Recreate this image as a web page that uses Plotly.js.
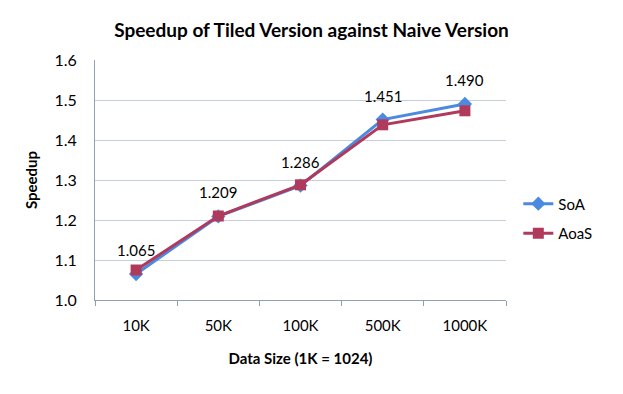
<!DOCTYPE html>
<html>
<head>
<meta charset="utf-8">
<script src="https://cdn.plot.ly/plotly-3.0.1.min.js"></script>
<style>
  body { margin: 0; background: #ffffff; }
  #chart { width: 623px; height: 394px; }
</style>
</head>
<body>
<div id="chart"></div>
<script>
var sizes = ['10K', '50K', '100K', '500K', '1000K'];
var soa = [1.065, 1.209, 1.286, 1.451, 1.490];
var aoas = [1.075, 1.210, 1.288, 1.438, 1.473];
var soaLabels = ['1.065', '1.209', '1.286', '1.451', '1.490'];

var soaTrace = {
    x: sizes,
    y: soa,
    name: 'SoA',
    legendgroup: 'soa',
    type: 'scatter',
    mode: 'lines+markers',
    line: { color: '#4A8AE0', width: 3 },
    marker: { symbol: 'diamond', size: 11, color: '#4A8AE0' }
};

var aoasTrace = {
    x: sizes,
    y: aoas,
    name: 'AoaS',
    legendgroup: 'aoas',
    type: 'scatter',
    mode: 'lines+markers',
    line: { color: '#B03A5C', width: 3 },
    marker: { symbol: 'square', size: 11, color: '#B03A5C' }
};

// data labels above the SoA points
var labels = sizes.map(function (s, i) {
    return {
        x: s, y: soa[i], text: soaLabels[i],
        showarrow: false, yshift: 24,
        font: { size: 15, color: '#000000' }
    };
});

var layout = {
    width: 623,
    height: 394,
    paper_bgcolor: '#ffffff',
    plot_bgcolor: '#ffffff',
    font: { family: 'Lato, "Open Sans", sans-serif', color: '#000000', size: 14 },
    margin: { l: 95, r: 117, t: 60, b: 94 },
    title: {
        text: '<b>Speedup of Tiled Version against Naive Version</b>',
        font: { size: 19 },
        xref: 'container', x: 0.5, xanchor: 'center',
        yref: 'container', y: 0.924, yanchor: 'middle'
    },
    xaxis: {
        title: { text: '<b>Data Size (1K = 1024)</b>', font: { size: 15 }, standoff: 20 },
        type: 'category',
        range: [-0.5, 4.5],
        showline: true,
        linecolor: '#8EA0B4',
        linewidth: 1,
        showgrid: false,
        ticks: 'outside',
        ticklen: 5,
        tickcolor: '#8EA0B4',
        tickson: 'boundaries',
        ticklabelstandoff: 12,
        tickfont: { size: 15 },
        fixedrange: true
    },
    yaxis: {
        title: { text: '<b>Speedup</b>', font: { size: 15 }, standoff: 13 },
        range: [1.0, 1.6],
        dtick: 0.1,
        tickformat: '.1f',
        showline: true,
        linecolor: '#8EA0B4',
        linewidth: 1,
        gridcolor: '#C6CFD9',
        gridwidth: 1,
        zeroline: false,
        ticks: '',
        ticklabelstandoff: 14,
        tickfont: { size: 16 },
        fixedrange: true
    },
    legend: {
        x: 1.03, xanchor: 'left',
        y: 0.34, yanchor: 'middle',
        font: { size: 15 },
        traceorder: 'grouped',
        tracegroupgap: 7
    },
    annotations: labels
};

Plotly.newPlot('chart', [soaTrace, aoasTrace], layout, { displayModeBar: false, staticPlot: true });
</script>
</body>
</html>
